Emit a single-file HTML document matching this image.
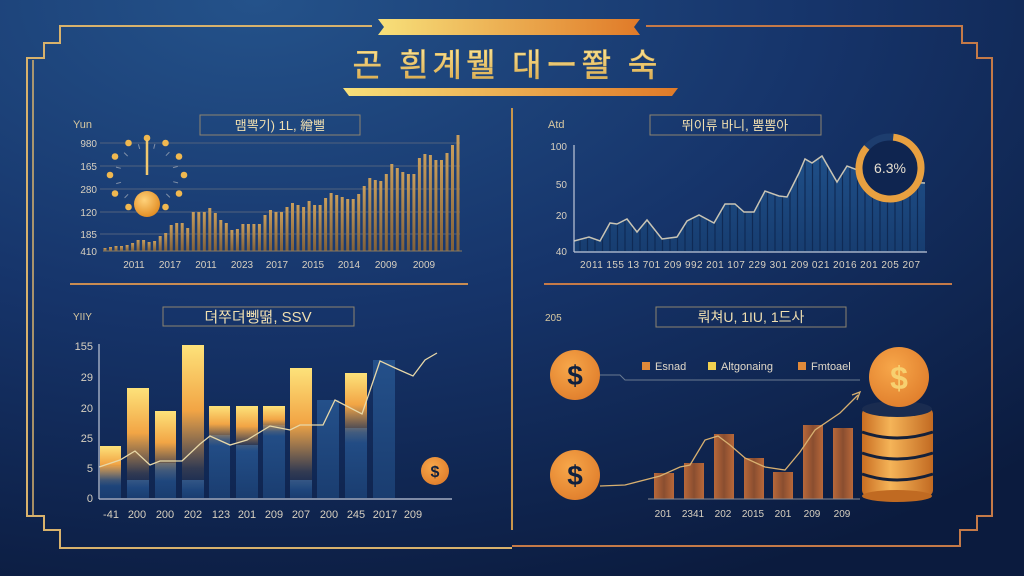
<!DOCTYPE html>
<html><head><meta charset="utf-8"><style>
html,body{margin:0;padding:0;width:1024px;height:576px;overflow:hidden;background:#0d1f45}
svg{display:block}
text{font-family:"Liberation Sans","Noto Sans CJK KR",sans-serif}
</style></head><body>
<svg id="s" width="1024" height="576" viewBox="0 0 1024 576" xmlns="http://www.w3.org/2000/svg">
<defs>
<radialGradient id="bg" cx="0.25" cy="0" r="1.1">
<stop offset="0" stop-color="#24528a"/><stop offset="0.5" stop-color="#16346a"/><stop offset="1" stop-color="#0b1b3e"/>
</radialGradient>
<linearGradient id="ban" x1="0" x2="1"><stop offset="0" stop-color="#f7e07a"/><stop offset="1" stop-color="#e07a28"/></linearGradient>
<linearGradient id="tg" x1="0" x2="0" y1="0" y2="1"><stop offset="0" stop-color="#fbe69a"/><stop offset="1" stop-color="#d9a548"/></linearGradient>
<linearGradient id="b1" x1="0" x2="0" y1="0" y2="1"><stop offset="0" stop-color="#c99e5c"/><stop offset="1" stop-color="#80603a"/></linearGradient>
<linearGradient id="gb" x1="0" x2="0" y1="0" y2="1"><stop offset="0" stop-color="#fde27a"/><stop offset="0.45" stop-color="#f2a545"/><stop offset="0.85" stop-color="#f2a545" stop-opacity="0.15"/><stop offset="1" stop-color="#f2a545" stop-opacity="0"/></linearGradient>
<linearGradient id="bl" x1="0" x2="0" y1="0" y2="1"><stop offset="0" stop-color="#24508a"/><stop offset="1" stop-color="#1a3d70"/></linearGradient>
<linearGradient id="fill2" x1="0" x2="0" y1="0" y2="1"><stop offset="0" stop-color="#1f4f88"/><stop offset="1" stop-color="#173d70"/></linearGradient>
<radialGradient id="coin" cx="0.4" cy="0.35" r="0.7"><stop offset="0" stop-color="#f7a74a"/><stop offset="1" stop-color="#e07e2c"/></radialGradient>
<radialGradient id="ball" cx="0.4" cy="0.35" r="0.7"><stop offset="0" stop-color="#ffd27a"/><stop offset="1" stop-color="#e08a20"/></radialGradient>
<linearGradient id="stack" x1="0" x2="1"><stop offset="0" stop-color="#c96e22"/><stop offset="0.4" stop-color="#f5b458"/><stop offset="1" stop-color="#c26a22"/></linearGradient>
<linearGradient id="cb" x1="0" x2="1"><stop offset="0" stop-color="#b8683a"/><stop offset="0.5" stop-color="#8a4e30"/><stop offset="1" stop-color="#b8683a"/></linearGradient>
</defs>
<rect width="1024" height="576" fill="url(#bg)"/>

<g fill="none" stroke="#d8b26c" stroke-width="2">
<path d="M372 26 H60 V43 H44 V58 H27 V516 H44 V530 H60 V548 H512"/>
<path d="M33 60 V516" stroke-width="1.5"/>
</g>
<g fill="none" stroke="#c57a48" stroke-width="2">
<path d="M646 26 H962 V43 H977 V58 H992 V516 H977 V530 H960 V546 H512"/>
</g>
<path d="M378 19 H640 L634 27 L640 35 H378 L384 27 Z" fill="url(#ban)"/>
<path d="M343 88 H678 L672 96 H349 Z" fill="url(#ban)"/>
<text x="507" y="76" font-size="32" fill="url(#tg)" text-anchor="middle" letter-spacing="4" stroke="#e8c060" stroke-width="0.6">곤 흰계뭴 대ー쫠 숙</text>

<line x1="512" y1="108" x2="512" y2="530" stroke="#c9964c" stroke-width="2"/>
<line x1="70" y1="284" x2="468" y2="284" stroke="#c98c52" stroke-width="2"/>
<line x1="544" y1="284" x2="952" y2="284" stroke="#c57a48" stroke-width="2"/>

<g id="p1">
<text x="73" y="128" font-size="11" fill="#d8c8a0">Yun</text>
<rect x="200" y="115" width="160" height="20" fill="none" stroke="#8d8470" stroke-width="1"/>
<text x="280" y="130" font-size="13" fill="#f0dfb0" text-anchor="middle">맴뽁기) 1L, 繒뻘</text>
<g stroke="#51627e" stroke-width="1">
<line x1="100" y1="143" x2="460" y2="143"/><line x1="100" y1="166" x2="460" y2="166"/><line x1="100" y1="189" x2="460" y2="189"/><line x1="100" y1="212" x2="460" y2="212"/><line x1="100" y1="234" x2="460" y2="234"/>
</g>
<g font-size="10" fill="#d8d0c0" text-anchor="end">
<text x="97" y="147">980</text><text x="97" y="170">165</text><text x="97" y="193">280</text><text x="97" y="216">120</text><text x="97" y="238">185</text><text x="97" y="255">410</text>
</g>
<g id="bars1" fill="url(#b1)"></g>
<line x1="103" y1="251" x2="462" y2="251" stroke="#8a7a60" stroke-width="1"/>
<g font-size="10" fill="#d8d0c0" text-anchor="middle">
<text x="134" y="268">2011</text><text x="170" y="268">2017</text><text x="206" y="268">2011</text><text x="242" y="268">2023</text><text x="277" y="268">2017</text><text x="313" y="268">2015</text><text x="349" y="268">2014</text><text x="386" y="268">2009</text><text x="424" y="268">2009</text>
</g>
<g id="gauge"></g>
<line x1="147" y1="140" x2="147" y2="175" stroke="#f0c870" stroke-width="2.5"/>
<circle cx="147" cy="204" r="13" fill="url(#ball)"/>
</g>

<g>
<text x="548" y="128" font-size="11" fill="#d8c8a0">Atd</text>
<rect x="650" y="115" width="171" height="20" fill="none" stroke="#8d8470"/>
<text x="735" y="130" font-size="13" fill="#f0dfb0" text-anchor="middle">뛰이류 바니, 뿜뽐아</text>
<path id="area2" d="" fill="url(#fill2)"/>
<g id="str2" stroke="#0f2a55" stroke-width="1.2"></g>
<polyline id="line2" points="" fill="none" stroke="#c9c4b4" stroke-width="1.5"/>
<line x1="574" y1="145" x2="574" y2="252" stroke="#c0c8d8" stroke-width="1.2"/>
<line x1="574" y1="252" x2="927" y2="252" stroke="#c0c8d8" stroke-width="1.2"/>
<g font-size="10" fill="#d8d0c0" text-anchor="end">
<text x="567" y="150">100</text><text x="567" y="188">50</text><text x="567" y="219">20</text><text x="567" y="255">40</text>
</g>
<text x="750" y="268" font-size="10" fill="#d8d0c0" text-anchor="middle" textLength="340">2011 155 13 701 209 992 201 107 229 301 209 021 2016 201 205 207</text>
<circle cx="890" cy="168" r="31" fill="#0f2550"/>
<circle cx="890" cy="168" r="31" fill="none" stroke="#1d3d6e" stroke-width="7"/>
<circle cx="890" cy="168" r="31" fill="none" stroke="#e8a040" stroke-width="7" stroke-dasharray="165 30" transform="rotate(-84 890 168)"/>
<text x="890" y="173" font-size="14" fill="#e8e0d0" text-anchor="middle">6.3%</text>
</g>

<g>
<text x="73" y="320" font-size="10" fill="#d8c8a0">YIIY</text>
<rect x="163" y="307" width="191" height="19" fill="none" stroke="#8d8470"/>
<text x="258" y="322" font-size="15" fill="#f0dfb0" text-anchor="middle">뎌쭈뎌뼁뗢, SSV</text>
<g fill="url(#bl)">
<rect x="100" y="466" width="21" height="32"/><rect x="127" y="480" width="22" height="18"/><rect x="155" y="463" width="21" height="35"/><rect x="182" y="480" width="22" height="18"/><rect x="209" y="435" width="21" height="63"/><rect x="236" y="445" width="22" height="53"/><rect x="263" y="425" width="22" height="73"/><rect x="290" y="480" width="22" height="18"/><rect x="317" y="400" width="22" height="98"/><rect x="345" y="428" width="22" height="70"/><rect x="373" y="360" width="22" height="138"/>
</g>
<g fill="url(#gb)">
<rect x="100" y="446" width="21" height="40"/><rect x="127" y="388" width="22" height="100"/><rect x="155" y="411" width="21" height="70"/><rect x="182" y="345" width="22" height="145"/><rect x="209" y="406" width="21" height="40"/><rect x="236" y="406" width="22" height="45"/><rect x="263" y="406" width="22" height="30"/><rect x="290" y="368" width="22" height="122"/><rect x="345" y="373" width="22" height="70"/>
</g>
<polyline points="99,467 120,460 135,451 150,465 160,461 182,461 200,444 210,436 230,445 247,440 270,426 290,430 300,425 323,425 335,400 362,414 380,361 395,368 413,376 425,360 437,353" fill="none" stroke="#e8d8a8" stroke-width="1.3"/>
<line x1="99" y1="344" x2="99" y2="499" stroke="#c0c8d8" stroke-width="1.2"/>
<line x1="99" y1="499" x2="452" y2="499" stroke="#c0c8d8" stroke-width="1.2"/>
<g font-size="11" fill="#d8d0c0" text-anchor="end">
<text x="93" y="350">155</text><text x="93" y="381">29</text><text x="93" y="412">20</text><text x="93" y="442">25</text><text x="93" y="472">5</text><text x="93" y="502">0</text>
</g>
<g font-size="11" fill="#d8d0c0" text-anchor="middle">
<text x="111" y="518">-41</text><text x="137" y="518">200</text><text x="165" y="518">200</text><text x="193" y="518">202</text><text x="221" y="518">123</text><text x="247" y="518">201</text><text x="274" y="518">209</text><text x="301" y="518">207</text><text x="329" y="518">200</text><text x="356" y="518">245</text><text x="385" y="518">2017</text><text x="413" y="518">209</text>
</g>
<circle cx="435" cy="471" r="14" fill="url(#coin)"/>
<text x="435" y="477" font-size="16" font-weight="bold" fill="#10213f" text-anchor="middle">$</text>
</g>

<g>
<text x="545" y="321" font-size="10" fill="#d8c8a0">205</text>
<rect x="656" y="307" width="190" height="20" fill="none" stroke="#8d8470"/>
<text x="751" y="322" font-size="14" fill="#f0dfb0" text-anchor="middle">뤄쳐U, 1IU, 1드사</text>
<path d="M600 375 H620 L625 380 H860" fill="none" stroke="#6a7a90" stroke-width="1"/>
<rect x="642" y="362" width="8" height="8" fill="#e08a3a"/><text x="655" y="370" font-size="11" fill="#e0d8c8">Esnad</text>
<rect x="708" y="362" width="8" height="8" fill="#f0d050"/><text x="721" y="370" font-size="11" fill="#e0d8c8">Altgonaing</text>
<rect x="798" y="362" width="8" height="8" fill="#e08a3a"/><text x="811" y="370" font-size="11" fill="#e0d8c8">Fmtoael</text>
<g fill="url(#cb)">
<rect x="654" y="473" width="20" height="26"/><rect x="684" y="463" width="20" height="36"/><rect x="714" y="434" width="20" height="65"/><rect x="744" y="458" width="20" height="41"/><rect x="773" y="472" width="20" height="27"/><rect x="803" y="425" width="20" height="74"/><rect x="833" y="428" width="20" height="71"/>
</g>
<line x1="648" y1="499" x2="860" y2="499" stroke="#8a8a90" stroke-width="1"/>
<polyline points="600,486 625,485 660,476 680,467 690,465 705,440 718,436 730,445 745,458 765,467 785,470 800,452 815,430 840,413 858,395" fill="none" stroke="#d8b070" stroke-width="1.3"/>
<path d="M852 395 L860 392 L857 400" fill="none" stroke="#d8b070" stroke-width="1.3"/>
<g font-size="10" fill="#d8d0c0" text-anchor="middle">
<text x="663" y="517">201</text><text x="693" y="517">2341</text><text x="723" y="517">202</text><text x="753" y="517">2015</text><text x="783" y="517">201</text><text x="812" y="517">209</text><text x="842" y="517">209</text>
</g>
<circle cx="575" cy="375" r="25" fill="url(#coin)"/>
<text x="575" y="385" font-size="28" font-weight="bold" fill="#10213f" text-anchor="middle">$</text>
<circle cx="575" cy="475" r="25" fill="url(#coin)"/>
<text x="575" y="485" font-size="28" font-weight="bold" fill="#10213f" text-anchor="middle">$</text>
<rect x="862" y="408" width="71" height="88" rx="6" fill="url(#stack)"/>
<ellipse cx="897" cy="496" rx="35" ry="6" fill="#c06a22"/>
<g stroke="#14203a" stroke-width="3" fill="none">
<path d="M862 432 Q897 444 933 432"/><path d="M862 453 Q897 465 933 453"/><path d="M862 474 Q897 486 933 474"/>
</g>
<ellipse cx="897" cy="409" rx="35" ry="8" fill="#1a2c50"/>
<circle cx="899" cy="377" r="30" fill="url(#coin)"/>
<text x="899" y="389" font-size="32" font-weight="bold" fill="#f7d070" text-anchor="middle">$</text>
</g>
</svg>
<script>
(function(){
var NS="http://www.w3.org/2000/svg";
function el(n,a,p){var e=document.createElementNS(NS,n);for(var k in a)e.setAttribute(k,a[k]);p.appendChild(e);return e;}
var tops=[248,247,246,246,245,243,240,240,242,241,236,233,225,223,223,228,212,212,212,208,213,220,223,230,229,224,224,224,224,215,210,212,212,207,203,205,207,201,205,205,198,193,195,197,199,199,194,186,178,180,181,174,164,168,172,174,174,158,154,155,160,160,153,145,135];
var g=document.getElementById("bars1");var n=tops.length;var sp=(458-105)/(n-1);
for(var i=0;i<n;i++){el("rect",{x:(105+i*sp-1.5).toFixed(1),y:tops[i],width:3,height:251-tops[i]},g);}
var ga=document.getElementById("gauge");
for(var j=0;j<12;j++){var a=(j*30-90)*Math.PI/180;
 var cx=147+37*Math.cos(a),cy=175+37*Math.sin(a);
 if(j==6)continue;
 el("circle",{cx:cx.toFixed(1),cy:cy.toFixed(1),r:3.3,fill:"#f0b850"},ga);
 var a2=a+0.25;el("line",{x1:(147+27*Math.cos(a2)).toFixed(1),y1:(175+27*Math.sin(a2)).toFixed(1),x2:(147+32*Math.cos(a2)).toFixed(1),y2:(175+32*Math.sin(a2)).toFixed(1),stroke:"#8090a8","stroke-width":1},ga);}
var pts=[[574,241],[589,237],[600,241],[610,223],[617,224],[627,219],[637,232],[647,220],[662,239],[677,237],[687,221],[699,215],[714,223],[725,204],[735,204],[744,212],[754,212],[765,191],[779,196],[787,197],[799,173],[805,159],[812,163],[822,156],[837,182],[847,166],[855,169],[870,178],[900,182],[925,183]];
document.getElementById("line2").setAttribute("points",pts.map(function(p){return p.join(",")}).join(" "));
var d="M574,252 "+pts.map(function(p){return "L"+p[0]+","+p[1]}).join(" ")+" L925,252 Z";
document.getElementById("area2").setAttribute("d",d);
var s=document.getElementById("str2");
for(var x=580;x<925;x+=7.5){el("line",{x1:x,y1:150,x2:x,y2:251},s);}
var clip=el("clipPath",{id:"c2"},document.querySelector("defs"));el("path",{d:d},clip);s.setAttribute("clip-path","url(#c2)");
})();
</script>
</body></html>
